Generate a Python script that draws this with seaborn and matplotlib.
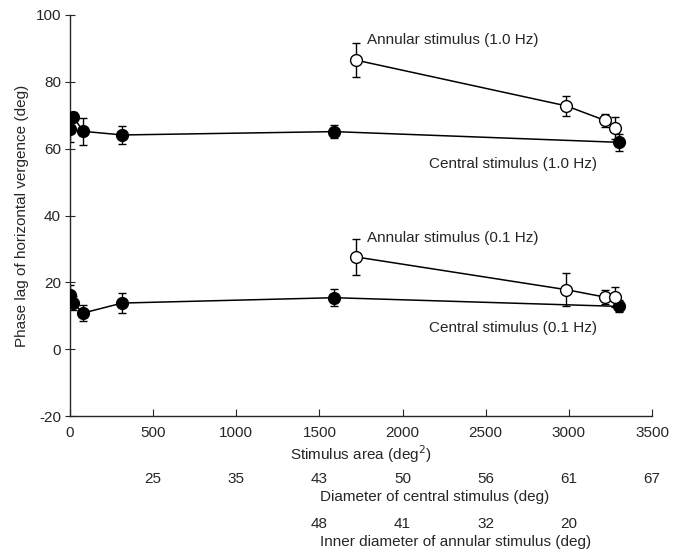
import numpy as np
import pandas as pd
import seaborn as sns
import matplotlib
matplotlib.use("Agg")
import matplotlib.pyplot as plt

# data
central_x = [3, 20, 78, 314, 1590, 3300]
central_1hz = [65.9, 69.6, 65.2, 64.1, 65.1, 61.9]
central_1hz_err = [4.0, 1.5, 4.0, 2.7, 2.0, 2.5]
central_01hz = [16.3, 13.8, 10.8, 13.8, 15.4, 12.8]
central_01hz_err = [3.0, 2.0, 2.5, 3.0, 2.6, 1.8]

annular_x = [1720, 2985, 3215, 3280]
annular_1hz = [86.5, 72.8, 68.5, 66.2]
annular_1hz_err = [5.0, 3.0, 2.0, 3.3]
annular_01hz = [27.6, 17.8, 15.6, 15.6]
annular_01hz_err = [5.3, 4.9, 2.0, 3.0]

area_ticks = [0, 500, 1000, 1500, 2000, 2500, 3000, 3500]
central_diam_pos = [500, 1000, 1500, 2000, 2500, 3000, 3500]
central_diam_labels = ["25", "35", "43", "50", "56", "61", "67"]
annular_diam_pos = [1500, 2000, 2500, 3000]
annular_diam_labels = ["48", "41", "32", "20"]

sns.set_style("ticks")
plt.rcParams["font.family"] = ["Liberation Sans", "DejaVu Sans"]
plt.rcParams["font.size"] = 11
plt.rcParams["axes.unicode_minus"] = False

fig = plt.figure(figsize=(6.8, 5.52), dpi=100)
ax = fig.add_axes([70 / 680, 1 - 416 / 552, 582 / 680, 401 / 552])

series = [
    (central_x, central_1hz, central_1hz_err, "black"),
    (central_x, central_01hz, central_01hz_err, "black"),
    (annular_x, annular_1hz, annular_1hz_err, "white"),
    (annular_x, annular_01hz, annular_01hz_err, "white"),
]
for xs, ys, errs, face in series:
    ax.errorbar(xs, ys, yerr=errs, fmt="none", ecolor="black",
                elinewidth=1, capsize=3, capthick=1, zorder=2)
    df = pd.DataFrame({"x": xs, "y": ys})
    sns.lineplot(data=df, x="x", y="y", ax=ax, color="black", linewidth=1.1,
                 marker="o", markersize=8.5, markerfacecolor=face,
                 markeredgecolor="black", markeredgewidth=1,
                 estimator=None, sort=True, zorder=3)

ax.text(1788, 92.4, "Annular stimulus (1.0 Hz)", ha="left", va="center")
ax.text(2160, 55.4, "Central stimulus (1.0 Hz)", ha="left", va="center")
ax.text(1788, 33.4, "Annular stimulus (0.1 Hz)", ha="left", va="center")
ax.text(2160, 6.4, "Central stimulus (0.1 Hz)", ha="left", va="center")

ax.set_xlim(0, 3500)
ax.set_ylim(-20, 100)
ax.set_xticks(area_ticks)
ax.set_yticks([-20, 0, 20, 40, 60, 80, 100])
ax.tick_params(axis="x", direction="in", length=5, width=0.8, pad=7.5)
ax.tick_params(axis="y", direction="inout", length=7, width=0.8, pad=3)
for s in ["top", "right"]:
    ax.spines[s].set_visible(False)
for s in ["left", "bottom"]:
    ax.spines[s].set_linewidth(1)
ax.set_xlabel("Stimulus area (deg$^2$)", labelpad=2)
ax.set_ylabel("Phase lag of horizontal vergence (deg)", labelpad=5)

sec1 = ax.secondary_xaxis(-0.1275)
sec1.set_xticks(central_diam_pos, central_diam_labels)
sec1.tick_params(length=0)
sec1.spines["bottom"].set_visible(False)

sec2 = ax.secondary_xaxis(-0.24)
sec2.set_xticks(annular_diam_pos, annular_diam_labels)
sec2.tick_params(length=0)
sec2.spines["bottom"].set_visible(False)

trans = ax.get_xaxis_transform()
ax.text(1503, -0.202, "Diameter of central stimulus (deg)", transform=trans,
        ha="left", va="center")
ax.text(1503, -0.314, "Inner diameter of annular stimulus (deg)",
        transform=trans, ha="left", va="center")

fig.savefig("out.png", dpi=100)
